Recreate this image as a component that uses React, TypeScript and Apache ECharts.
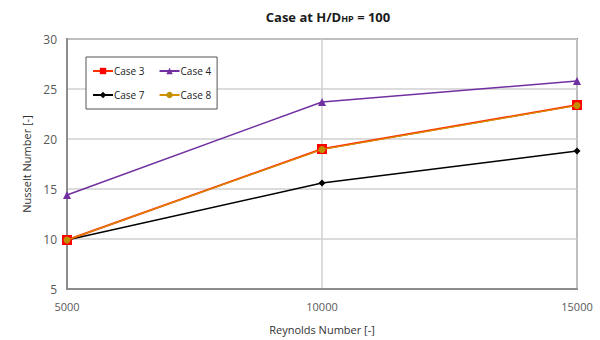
import React, { useEffect, useRef } from "react";
import * as echarts from "echarts";

const reynolds = [5000, 10000, 15000];
const case3 = [9.9, 19.0, 23.4];
const case4 = [14.4, 23.7, 25.8];
const case7 = [9.9, 15.6, 18.8];
const case8 = [9.9, 18.95, 23.35];
const seriesNames = ["Case 3", "Case 4", "Case 7", "Case 8"];

const FONT = "'Open Sans', 'Liberation Sans', sans-serif";

export default function App() {
  const ref = useRef<HTMLDivElement>(null);
  useEffect(() => {
    if (!ref.current) return;
    const chart = echarts.init(ref.current, null, { renderer: "svg" });
    const pts = (v: number[]) => reynolds.map((x, i) => [x, v[i]]);
    chart.setOption({
      animation: false,
      backgroundColor: "#ffffff",
      textStyle: { fontFamily: FONT },
      title: {
        text: "{a|Case at H/D}{b|HP}{a| = 100}",
        left: 323,
        textAlign: "center",
        top: 2,
        textStyle: {
          rich: {
            a: { fontFamily: FONT, fontSize: 13, fontWeight: "bold", color: "#1a1a1a", verticalAlign: "bottom" },
            b: { fontFamily: FONT, fontSize: 9, fontWeight: "bold", color: "#1a1a1a", padding: [7, 0, 0, 0], verticalAlign: "bottom" },
          },
        },
      },
      legend: {
        data: seriesNames,
        left: 86,
        top: 57,
        width: 128,
        orient: "horizontal",
        backgroundColor: "#ffffff",
        borderColor: "#555555",
        borderWidth: 1,
        padding: [9, 6, 9, 6],
        itemGap: 14,
        itemWidth: 20,
        itemHeight: 8,
        textStyle: { fontFamily: FONT, fontSize: 10, color: "#222", padding: [0, 0, 0, -4] },
      },
      grid: {
        left: 67,
        right: 23,
        top: 39,
        bottom: 46,
        containLabel: false,
        show: true,
        borderColor: "#8c8c8c",
        borderWidth: 2,
        backgroundColor: "transparent",
      },
      xAxis: {
        type: "value",
        min: 5000,
        max: 15000,
        interval: 5000,
        name: "Reynolds Number [-]",
        nameLocation: "middle",
        nameGap: 35,
        nameTextStyle: { fontFamily: FONT, fontSize: 11, color: "#333" },
        axisLine: { show: true, lineStyle: { color: "#8c8c8c", width: 2 } },
        axisTick: { show: false },
        axisLabel: {
          fontFamily: FONT,
          fontSize: 11,
          color: "#595959",
          margin: 12,
          showMinLabel: true,
          showMaxLabel: true,
          formatter: (v: number) => String(v),
        },
        splitLine: { show: true, lineStyle: { color: "#d0d0d0", width: 1.5 } },
      },
      yAxis: {
        type: "value",
        min: 5,
        max: 30,
        interval: 5,
        name: "Nusselt Number [-]",
        nameLocation: "middle",
        nameGap: 28,
        nameTextStyle: { fontFamily: FONT, fontSize: 11, color: "#333" },
        axisLine: { show: true, lineStyle: { color: "#8c8c8c", width: 2 } },
        axisTick: { show: false },
        axisLabel: { fontFamily: FONT, fontSize: 12, color: "#595959", margin: 10 },
        splitLine: { show: true, lineStyle: { color: "#d0d0d0", width: 1.5 } },
      },
      series: [
        {
          name: "Case 7",
          type: "line",
          data: pts(case7),
          color: "#000000",
          symbol: "diamond",
          symbolSize: 7,
          lineStyle: { width: 1.5, color: "#000000" },
          itemStyle: { color: "#000000" },
          z: 2,
        },
        {
          name: "Case 3",
          type: "line",
          data: pts(case3),
          color: "#ff0000",
          symbol: "rect",
          symbolSize: 10,
          lineStyle: { width: 2, color: "#ff3000" },
          itemStyle: { color: "#ff0000" },
          z: 3,
        },
        {
          name: "Case 4",
          type: "line",
          data: pts(case4),
          color: "#7030a0",
          symbol: "triangle",
          symbolSize: 8,
          lineStyle: { width: 1.5, color: "#7030a0" },
          itemStyle: { color: "#7030a0" },
          z: 3,
        },
        {
          name: "Case 8",
          type: "line",
          data: pts(case8),
          color: "#bf9000",
          symbol: "circle",
          symbolSize: 7,
          lineStyle: { width: 1.2, color: "#d49000" },
          itemStyle: { color: "#bf9000" },
          z: 4,
        },
      ],
    });
    return () => chart.dispose();
  }, []);
  return <div ref={ref} style={{ width: 600, height: 340, position: "absolute", left: 0, top: 0 }} />;
}
